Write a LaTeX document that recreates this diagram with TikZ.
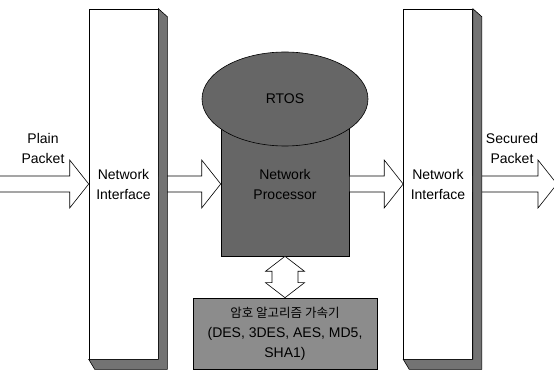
\documentclass[tikz,border=0pt]{standalone}
\usepackage{fontspec}
\setmainfont{Liberation Sans}
\newfontfamily\kofont{Noto Sans CJK KR}
\usetikzlibrary{calc,shapes.geometric}

\begin{document}
\begin{tikzpicture}[x=1pt, y=-1pt, font=\fontsize{14}{20}\selectfont]
			\tikzset{panneau/.style={draw, fill=white, minimum width=69pt, minimum height=350pt, inner sep=0pt, align=center, line width=0.6pt},
			ombre/.style={fill=black!55, draw=black, line width=0.6pt},
			bloc/.style={draw, line width=0.6pt, align=center, inner sep=0pt},
			fleche/.style={draw, fill=white, line width=0.6pt, to path={let \p1=(\tikztostart), \p2=(\tikztotarget) in
				(\x1,\y1+8pt) -- (\x2-19pt,\y1+8pt) -- (\x2-19pt,\y1+24pt) -- (\x2,\y1) -- (\x2-19pt,\y1-24pt) -- (\x2-19pt,\y1-8pt) -- (\x1,\y1-8pt) -- cycle}},
			fleche double/.style={draw, fill=white, line width=0.6pt, to path={let \p1=(\tikztostart), \p2=(\tikztotarget) in
				(\x1,\y1) -- (\x1+19.5pt,\y1-15pt) -- (\x1+13pt,\y1-15pt) -- (\x1+13pt,\y2+15pt) -- (\x1+19.5pt,\y2+15pt) -- (\x1,\y2)
				-- (\x1-19.5pt,\y2+15pt) -- (\x1-13pt,\y2+15pt) -- (\x1-13pt,\y1-15pt) -- (\x1-19.5pt,\y1-15pt) -- cycle}}};

			\useasboundingbox (0,0) rectangle (554,371);

			\node[panneau] (ni-g) at (123.5,184) {Network\\Interface};
			\node[panneau] (ni-d) at (438,184) {Network\\Interface};
			\node[bloc, fill=black!60, minimum width=128pt, minimum height=144pt] (np) at (285,184) {Network\\Processor};
			\node[bloc, fill=black!60, ellipse, minimum width=166pt, minimum height=94pt] (rtos) at (285,99) {RTOS};
			\node[bloc, fill=black!45, minimum width=184pt, minimum height=71pt] (accel) at (285,333.5) {{\kofont\fontsize{12.5}{20}\selectfont 암호 알고리즘 가속기}\\(DES, 3DES, AES, MD5,\\SHA1)};

			\coordinate (entree) at (-3,184);
			\coordinate (sortie) at (557,184);
			\node[align=center] (plain) at (43,148) {Plain\\Packet};
			\node[align=center] (secured) at (512,148) {Secured\\Packet};

			\foreach \de/\vers in {entree/ni-g.west, ni-g.east/np.west, np.east/ni-d.west, ni-d.east/sortie}{
				\path[fleche] (\de) to (\vers);
			}

			\foreach \p in {ni-g, ni-d}{
				\path[ombre] (\p.north east) -- ++(9,8) -- ($(\p.south east)+(9,10)$) -- ($(\p.south west)+(6,10)$) -- (\p.south west) -- (\p.south east) -- cycle;
			}

			\path[fleche double] (np.south) to (accel.north);

		\end{tikzpicture}
\end{document}
